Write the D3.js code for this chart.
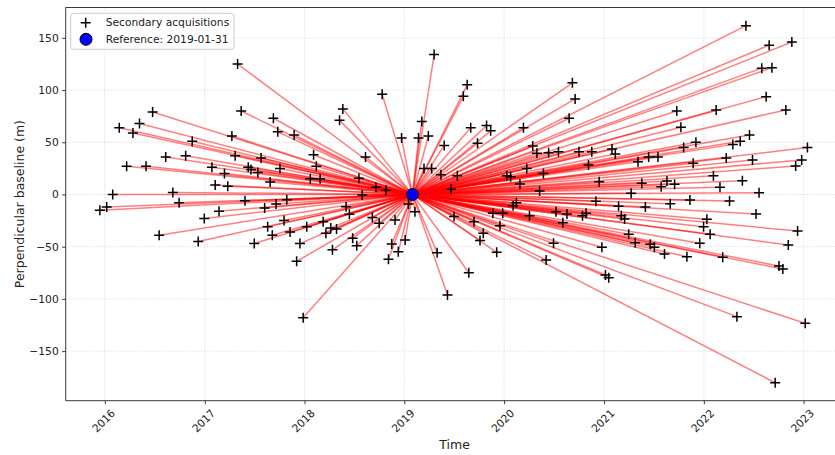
<!DOCTYPE html>
<html>
<head>
<meta charset="utf-8">
<script src="https://cdn.jsdelivr.net/npm/d3@7"></script>
<style>
  html, body { margin: 0; padding: 0; background: #fff; }
  svg { display: block; font-family: "DejaVu Sans", sans-serif; }
</style>
</head>
<body>
<svg id="chart" width="835" height="455"></svg>
<script>
// Reference (primary) acquisition
const referenceDate = "2019-01-31";
const referenceBaseline = 0;

// Secondary acquisitions: acquisition dates and perpendicular baselines (m)
const secondaryDates = [
  "2017-05-01","2016-06-24","2017-05-14","2017-09-09","2016-02-23","2016-05-07","2016-04-13","2017-09-25",
  "2017-11-24","2016-11-16","2017-04-10","2018-02-03","2016-08-11","2016-10-23","2017-04-22","2017-07-26",
  "2018-02-13","2016-03-21","2016-05-31","2017-01-27","2017-06-09","2017-06-19","2017-07-14","2017-03-14",
  "2017-10-03","2017-08-28","2017-02-08","2017-03-26","2018-01-22","2018-02-27","2016-01-30","2016-09-06",
  "2016-09-29","2017-05-28","2017-08-08","2017-09-19","2017-10-28","2016-01-08","2015-12-14",
  "2016-12-30","2017-02-22","2016-07-18","2016-12-08","2017-07-01","2017-08-19","2017-09-05","2017-10-18",
  "2017-11-09","2018-01-09","2017-12-15","2017-12-03","2017-12-27",
  "2019-04-20","2019-08-19","2019-08-05","2018-10-12","2018-05-21","2018-05-09","2019-03-06","2018-12-22",
  "2019-02-22","2019-03-30","2019-09-01","2019-10-29","2019-11-13","2020-03-12","2019-05-27","2019-09-26",
  "2018-08-12","2018-07-19","2018-09-19","2018-10-26","2018-07-31","2019-03-14","2019-04-11","2019-05-15",
  "2019-07-14","2019-06-21","2020-01-11","2020-01-25","2020-03-24","2020-04-15","2020-04-30","2020-06-12",
  "2020-07-18","2020-05-24","2020-02-28","2020-05-10","2020-02-15","2020-02-03","2018-06-02","2019-01-16",
  "2018-06-14","2018-03-10","2018-03-20","2018-04-07","2018-04-28","2018-06-26","2018-07-11","2018-04-13",
  "2018-09-06","2018-10-01","2018-11-28","2018-11-16","2018-11-04","2018-12-10","2019-01-04","2019-02-09",
  "2019-05-01","2019-06-08","2019-07-02","2019-08-25","2019-09-13","2019-10-05","2019-10-17","2019-11-21",
  "2019-12-17","2019-12-27","2019-12-05","2020-04-03","2020-06-03","2020-06-30","2020-07-09",
  "2022-06-04","2022-08-28","2022-11-19","2022-08-01","2022-09-07","2022-08-17","2022-10-28","2021-09-24",
  "2022-02-15","2021-10-09","2020-09-07","2020-09-17","2020-08-26","2022-06-17","2022-05-14","2022-04-17",
  "2021-12-03","2021-10-19","2023-01-15","2022-12-25","2022-12-03","2022-06-28","2022-03-24","2021-11-23",
  "2021-07-17","2021-06-13","2021-05-05","2021-01-30","2021-02-11","2020-11-17","2020-10-01","2020-11-05",
  "2020-12-14","2021-05-19","2021-04-10","2021-07-29","2021-08-19","2021-09-16","2022-02-05","2022-03-01",
  "2022-05-22","2022-07-22","2020-12-02","2021-02-23","2021-06-01","2021-08-31","2021-11-11","2022-04-05",
  "2022-07-11","2020-08-18","2020-08-03","2020-10-14","2020-10-27","2021-03-05","2021-03-17","2022-01-12",
  "2021-12-31","2022-01-24","2021-12-17","2021-04-01","2021-04-25","2021-06-19","2021-07-04","2021-08-10",
  "2021-10-31","2022-03-11","2020-12-24","2021-01-06","2021-01-18","2022-12-10","2022-11-06","2022-10-03",
  "2022-10-17","2022-05-02","2023-01-07","2022-09-19"
];

const secondaryBaselines = [
  125, 79, 80, 73, 64, 68, 59, 60,
  57, 51, 56, 38, 36, 37, 37, 35,
  27, 27, 27, 26, 26, 24, 21, 20,
  25, 12, 9, 8, 15, 15, 0, 2,
  -8, -6, -13, -9, -5, -12, -15,
  -23, -16, -39, -45, -47, -31, -39, -25,
  -36, -31, -47, -64, -118,
  134, 105, 94, 96, 82, 71, 70, 54,
  54, 56, 64, 66, 61, 64, 47, 49,
  36, 15.5, 7, 4, -0.5, 25, 25, 19,
  18, 5, 18, 17, 25, 46.5, 39.5, 40,
  41, 20, 10, 3.4, -8, -10.7, -11.7, -9,
  -19, -26, -37, -32, -33, -42, -49, -53,
  -22, -27.6, -24.4, -47.4, -62, -54.8, -43.6, -16.5,
  -55.7, -96.3, -21, -75, -26, -44, -37, -18,
  -30, -18, -55.4, -20.3, -62.7, -46.7, -16.5,
  161.7, 143, 146, 121, 121.5, 93.7, 81, 80,
  81, 64.4, 107, 91.5, 73, 57, 51, 48,
  50, 45, 45, 33, 27.3, 33, 35, 30,
  36, 36, 31.4, 43.6, 38.8, 41, 41, 28.3,
  12.3, 10.7, 1.1, 7.5, 12.9, 9.8, 18, 6.9,
  13.2, 1.7, -6.4, -11.2, -12, -8.8, -5.3, -6.2,
  -18.7, -18.7, -27, -20.3, -18, -20.3, -23.5, -23.8,
  -30.8, -38, -46.8, -38, -46.2, -47.7, -50.6, -57,
  -59.6, -60.2, -50.6, -77, -79.7, -35, -48.4, -68.5,
  -71.4, -117, -123.4, -180.3
];

// Axis settings
const yTicks = [-150, -100, -50, 0, 50, 100, 150];
const xTickYears = [2016, 2017, 2018, 2019, 2020, 2021, 2022, 2023];
const xDomain = ["2015-08-11", "2023-05-27"];
const yDomain = [-197.5, 179.1];

const parse = d3.utcParse("%Y-%m-%d");
const svg = d3.select("#chart");

const plot = { left: 65.7, right: 843.5, top: 7.5, bottom: 400.7 };

const x = d3.scaleUtc()
  .domain(xDomain.map(parse))
  .range([plot.left, plot.right]);
const y = d3.scaleLinear()
  .domain(yDomain)
  .range([plot.bottom, plot.top]);

const secondaries = secondaryDates.map((d, i) => ({ date: parse(d), bperp: secondaryBaselines[i] }));
const ref = { date: parse(referenceDate), bperp: referenceBaseline };

// Grid
const grid = svg.append("g").attr("class", "grid");
grid.selectAll("line.gx")
  .data(xTickYears)
  .join("line")
  .attr("x1", d => x(new Date(Date.UTC(d, 0, 1))))
  .attr("x2", d => x(new Date(Date.UTC(d, 0, 1))))
  .attr("y1", plot.top).attr("y2", plot.bottom)
  .attr("stroke", "#b0b0b0").attr("stroke-width", 0.8)
  .attr("stroke-dasharray", "1,2").attr("opacity", 0.7);
grid.selectAll("line.gy")
  .data(yTicks)
  .join("line")
  .attr("x1", plot.left).attr("x2", plot.right)
  .attr("y1", d => y(d)).attr("y2", d => y(d))
  .attr("stroke", "#b0b0b0").attr("stroke-width", 0.8)
  .attr("stroke-dasharray", "1,2").attr("opacity", 0.7);

// Connections from reference to each secondary
svg.append("g").selectAll("line")
  .data(secondaries)
  .join("line")
  .attr("x1", x(ref.date)).attr("y1", y(ref.bperp))
  .attr("x2", d => x(d.date)).attr("y2", d => y(d.bperp))
  .attr("stroke", "red").attr("stroke-opacity", 0.5).attr("stroke-width", 1.5);

// Secondary markers (+)
const plus = (s) => `M${-s},0H${s}M0,${-s}V${s}`;
svg.append("g").selectAll("path")
  .data(secondaries)
  .join("path")
  .attr("transform", d => `translate(${x(d.date)},${y(d.bperp)})`)
  .attr("d", plus(5))
  .attr("stroke", "black").attr("stroke-width", 1.5).attr("fill", "none");

// Reference marker
svg.append("circle")
  .attr("cx", x(ref.date)).attr("cy", y(ref.bperp)).attr("r", 6)
  .attr("fill", "#0000ff").attr("stroke", "black").attr("stroke-width", 1);

// Frame
const frame = svg.append("g").attr("stroke", "#3a3a3a").attr("stroke-width", 1);
frame.append("line").attr("x1", plot.left).attr("x2", plot.left).attr("y1", plot.top).attr("y2", plot.bottom);
frame.append("line").attr("x1", plot.left).attr("x2", plot.right).attr("y1", plot.top).attr("y2", plot.top);
frame.append("line").attr("x1", plot.left).attr("x2", plot.right).attr("y1", plot.bottom).attr("y2", plot.bottom);

// Y axis
const yAxis = svg.append("g")
  .attr("transform", `translate(${plot.left},0)`)
  .call(d3.axisLeft(y).tickValues(yTicks).tickSize(3.5).tickPadding(3.5)
    .tickFormat(d => d3.format("d")(d).replace("-", "\u2212")));
yAxis.select(".domain").remove();
yAxis.selectAll(".tick line").attr("stroke", "#3a3a3a");
yAxis.selectAll(".tick text")
  .attr("font-size", "10.7px").attr("fill", "#222")
  .attr("font-family", "DejaVu Sans, sans-serif");

// X axis
const xAxis = svg.append("g")
  .attr("transform", `translate(0,${plot.bottom})`)
  .call(d3.axisBottom(x).tickValues(xTickYears.map(yr => new Date(Date.UTC(yr, 0, 1))))
    .tickSize(3.5).tickFormat(d3.utcFormat("%Y")));
xAxis.select(".domain").remove();
xAxis.selectAll(".tick line").attr("stroke", "#3a3a3a");
xAxis.selectAll(".tick text")
  .attr("font-size", "10.7px").attr("fill", "#222")
  .attr("font-family", "DejaVu Sans, sans-serif")
  .attr("text-anchor", "middle")
  .attr("dy", null)
  .attr("y", 0)
  .attr("dominant-baseline", "central")
  .attr("transform", "translate(-1.5,20.3) rotate(-45)");

// Axis labels
svg.append("text")
  .attr("x", (plot.left + plot.right) / 2).attr("y", 449)
  .attr("text-anchor", "middle").attr("font-size", "12.5px").attr("fill", "#222")
  .text("Time");
svg.append("text")
  .attr("transform", `translate(19,${(plot.top + plot.bottom) / 2}) rotate(-90)`)
  .attr("text-anchor", "middle").attr("dominant-baseline", "central")
  .attr("font-size", "12.5px").attr("fill", "#222")
  .text("Perpendicular baseline (m)");

// Legend
const legend = svg.append("g");
legend.append("rect")
  .attr("x", 70.7).attr("y", 13.3).attr("width", 163.3).attr("height", 36).attr("rx", 3)
  .attr("fill", "white").attr("fill-opacity", 0.8)
  .attr("stroke", "#cccccc").attr("stroke-width", 1);
legend.append("path")
  .attr("transform", "translate(85.7,22.7)")
  .attr("d", plus(5))
  .attr("stroke", "black").attr("stroke-width", 1.5).attr("fill", "none");
legend.append("text")
  .attr("x", 105.7).attr("y", 26).attr("font-size", "10.7px").attr("fill", "#222")
  .text("Secondary acquisitions");
legend.append("circle")
  .attr("cx", 86).attr("cy", 39.3).attr("r", 6)
  .attr("fill", "#0000ff").attr("stroke", "black").attr("stroke-width", 1);
legend.append("text")
  .attr("x", 105.7).attr("y", 42.8).attr("font-size", "10.7px").attr("fill", "#222")
  .text("Reference: " + referenceDate);
</script>
</body>
</html>
